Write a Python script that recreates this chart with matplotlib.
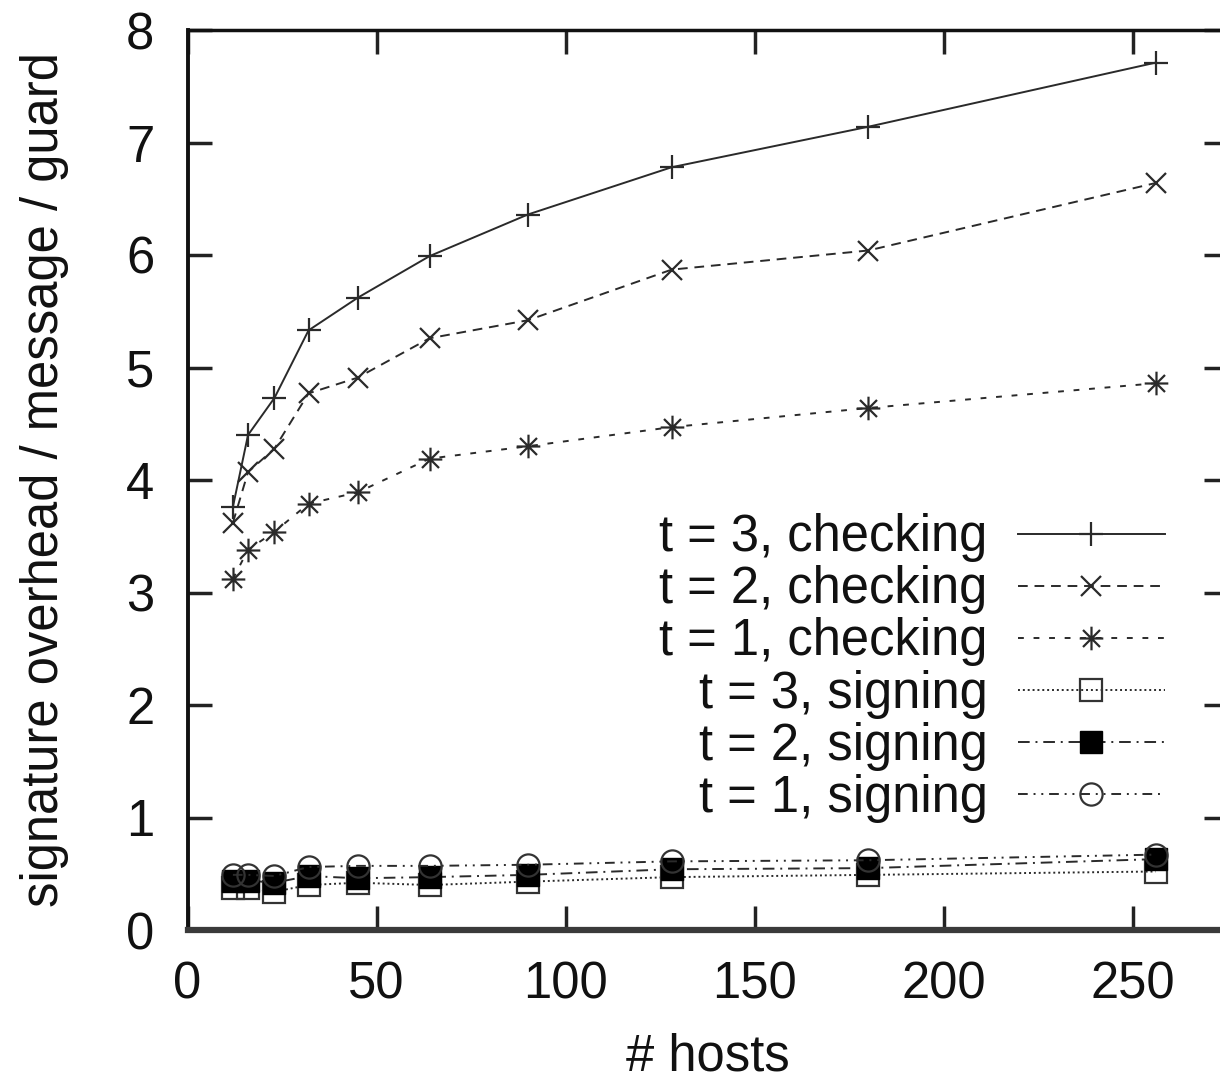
import matplotlib
matplotlib.use("Agg")
import matplotlib.pyplot as plt
from matplotlib.path import Path

plt.rcParams['font.family'] = ['Liberation Sans', 'DejaVu Sans']

hosts = [12, 16, 23, 32, 45, 64, 90, 128, 180, 256]
t3_checking = [3.76, 4.40, 4.73, 5.33, 5.62, 5.99, 6.36, 6.78, 7.14, 7.71]
t2_checking = [3.62, 4.07, 4.28, 4.77, 4.91, 5.26, 5.42, 5.87, 6.04, 6.64]
t1_checking = [3.12, 3.38, 3.54, 3.79, 3.89, 4.19, 4.30, 4.47, 4.64, 4.86]
t3_signing = [0.37, 0.37, 0.34, 0.40, 0.42, 0.40, 0.43, 0.47, 0.49, 0.52]
t2_signing = [0.44, 0.44, 0.42, 0.48, 0.46, 0.47, 0.49, 0.54, 0.55, 0.63]
t1_signing = [0.49, 0.49, 0.48, 0.56, 0.57, 0.57, 0.58, 0.61, 0.62, 0.67]

labels = ["t = 3, checking", "t = 2, checking", "t = 1, checking",
          "t = 3, signing", "t = 2, signing", "t = 1, signing"]
xticks = [0, 50, 100, 150, 200, 250]
yticks = [0, 1, 2, 3, 4, 5, 6, 7, 8]

FS = 36.5
W, H = 1220, 1082
fig = plt.figure(figsize=(W / 100, H / 100), dpi=100)
ax_left, ax_right, ax_top, ax_bot = 187.5, 1227.6, 30, 930
ax = fig.add_axes([ax_left / W, 1 - ax_bot / H, (ax_right - ax_left) / W, (ax_bot - ax_top) / H])

star = Path([(-1, 0), (1, 0), (0, -1), (0, 1),
             (-0.72, -0.72), (0.72, 0.72), (-0.72, 0.72), (0.72, -0.72)],
            [Path.MOVETO, Path.LINETO] * 4)

lc = '#2a2a2a'
lw = 1.4
ax.plot(hosts, t3_checking, color=lc, lw=lw, ls='-', marker='+', ms=17, mew=1.6,
        label=labels[0])
ax.plot(hosts, t2_checking, color=lc, lw=lw, ls=(0, (5, 3.5)), marker='x', ms=15, mew=1.6,
        label=labels[1])
ax.plot(hosts, t1_checking, color=lc, lw=lw, ls=(0, (3, 5)), marker=star, ms=17, mew=1.6,
        label=labels[2])
ax.plot(hosts, t3_signing, color=lc, lw=lw, ls=(0, (1, 1.5)), marker='s', ms=16, mew=1.6,
        mfc='none', mec='#333333', label=labels[3])
ax.plot(hosts, t2_signing, color=lc, lw=lw, ls=(0, (6, 3, 1, 3)), marker='s', ms=16, mew=1.0,
        mfc='black', mec='black', label=labels[4])
ax.plot(hosts, t1_signing, color=lc, lw=lw, ls=(0, (5, 3, 1, 3, 1, 3)), marker='o', ms=16,
        mew=1.6, mfc='none', mec='#333333', label=labels[5])

ax.set_xlim(0, 275)
ax.set_ylim(0, 8)
ax.set_xticks(xticks)
ax.set_yticks(yticks)
ax.tick_params(axis='both', direction='in', length=17, width=2.5, color='#222222',
               labelsize=FS, labelcolor='#111111', top=True, right=True)
ax.tick_params(axis='x', pad=22)
ax.tick_params(axis='y', pad=24)

ax.spines['bottom'].set_linewidth(4.5)
ax.spines['bottom'].set_color('#3a3a3a')
ax.spines['left'].set_linewidth(2.8)
ax.spines['left'].set_color('#111111')
ax.spines['top'].set_linewidth(2.5)
ax.spines['top'].set_color('#111111')
ax.spines['right'].set_linewidth(2.5)

ax.set_xlabel("# hosts", fontsize=FS, color='#111111')
ax.set_ylabel("signature overhead / message / guard", fontsize=FS, color='#111111')
ax.xaxis.set_label_coords(0.5, (ax_bot - 1057) / (ax_bot - ax_top))
ax.yaxis.set_label_coords((45 - ax_left) / (ax_right - ax_left), 0.5)
ax.xaxis.label.set_verticalalignment('center')
ax.yaxis.label.set_verticalalignment('center')

leg = ax.legend(loc='center right', bbox_to_anchor=(1165 / W, 1 - 668 / H),
                bbox_transform=fig.transFigure, frameon=False, markerfirst=False,
                fontsize=FS, handlelength=2.9, handletextpad=0.6, labelspacing=0.06,
                borderpad=0, borderaxespad=0)
for t in leg.get_texts():
    t.set_color('#111111')

fig.savefig("out.png", dpi=100)
